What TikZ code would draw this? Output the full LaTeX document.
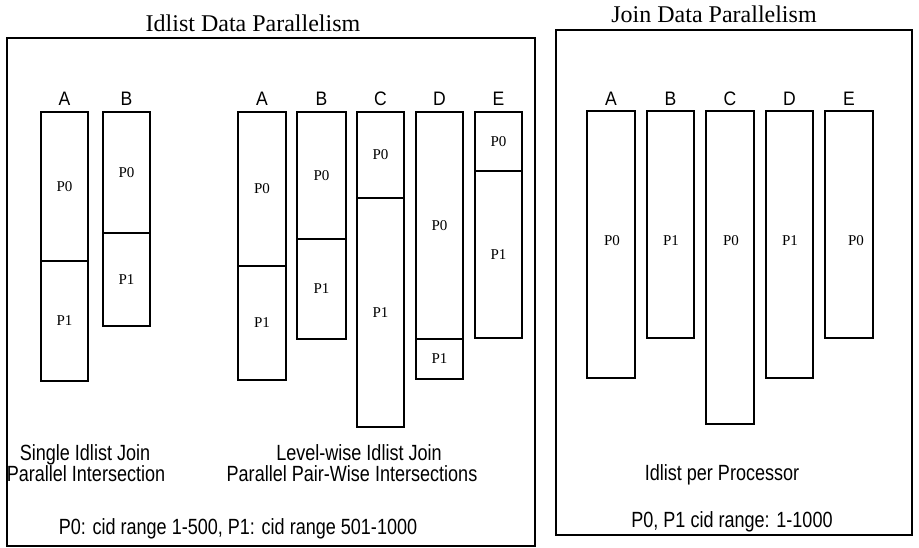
\documentclass[tikz,border=0pt]{standalone}
\usepackage{fontspec}
\setmainfont{Liberation Serif}
\setsansfont{Liberation Sans}
\usepackage{graphicx}
% narrow sans text (Helvetica Narrow look)
\newcommand{\nrw}[1]{\scalebox{0.82}[1]{#1}}
\newcommand{\semi}[1]{\scalebox{0.9}[1]{#1}}

\begin{document}
\begin{tikzpicture}[x=1pt,y=-1pt,
  frame/.style={draw, line width=1.2pt},
  bar/.style={draw, line width=1.2pt},
  title/.style={font=\fontsize{24}{26}\selectfont, inner sep=0, anchor=base},
  col/.style={font=\sffamily\fontsize{19.5}{21}\selectfont, inner sep=0, anchor=base},
  proc/.style={font=\fontsize{15}{17}\selectfont, inner sep=0},
  caption/.style={font=\sffamily\fontsize{22}{24}\selectfont, inner sep=0, anchor=base}]

\useasboundingbox (0,0) rectangle (919,548);

% panels
\draw[frame] (7,38) rectangle (535,546);
\draw[frame] (556,30) rectangle (912,535);

\node[title] (tleft) at (253,32) {Idlist Data Parallelism};
\node[title] (tright) at (714,23) {Join Data Parallelism};

% two-way split idlists: name/letter/x1/x2/top/split/bottom
\foreach \n/\l/\xa/\xb/\t/\d/\b in {
    sa/A/41/88/112/261/381,
    sb/B/103/150/112/233/326,
    la/A/238/286/112/266/380,
    lb/B/297/346/112/239/339,
    lc/C/357/404/112/198/427,
    ld/D/416/463/112/339/379,
    le/E/475/522/112/171/338}{
  \draw[bar] (\xa,\t) rectangle (\xb,\b);
  \draw[bar] (\xa,\d) -- (\xb,\d);
  \node[col] (h\n) at ({(\xa+\xb)/2},106) {\semi{\l}};
  \node[proc] (p0\n) at ({(\xa+\xb)/2},{(\t+\d)/2}) {P0};
  \node[proc] (p1\n) at ({(\xa+\xb)/2},{(\d+\b)/2}) {P1};
}

% one idlist per processor: name/letter/x1/x2/bottom/processor
\foreach \n/\l/\xa/\xb/\b/\p/\px in {
    ja/A/587/635/378/P0/612,
    jb/B/647/694/338/P1/671,
    jc/C/706/754/424/P0/731,
    jd/D/766/813/378/P1/790,
    je/E/825/873/338/P0/856}{
  \draw[bar] (\xa,111) rectangle (\xb,\b);
  \node[col] (h\n) at ({(\xa+\xb)/2},106) {\semi{\l}};
  \node[proc] (p\n) at (\px,241) {\p};
}

% captions
\node[caption] (c1a) at (85,460) {\nrw{Single Idlist Join}};
\node[caption] (c1b) at (86,481) {\nrw{Parallel Intersection}};
\node[caption] (c2a) at (359,460) {\nrw{Level-wise Idlist Join}};
\node[caption] (c2b) at (352,481) {\nrw{Parallel Pair-Wise Intersections}};
\node[caption] (c3) at (238,534) {\nrw{P0: cid range 1-500, P1: cid range 501-1000}};
\node[caption] (c4) at (722,480) {\nrw{Idlist per Processor}};
\node[caption] (c5) at (732,527) {\nrw{P0, P1 cid range: 1-1000}};
\end{tikzpicture}
\end{document}
